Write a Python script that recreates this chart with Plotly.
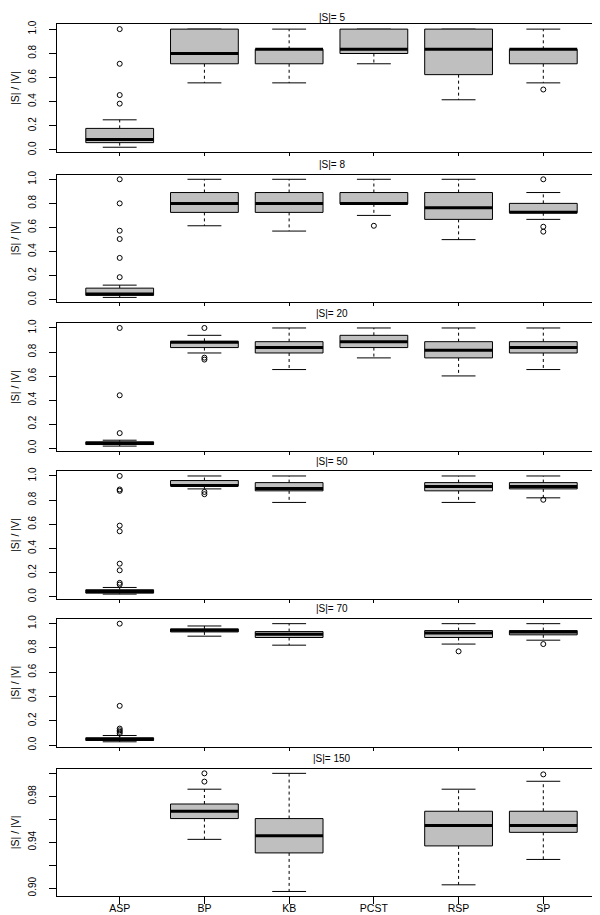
import plotly.graph_objects as go

CATEGORIES = ["ASP", "BP", "KB", "PCST", "RSP", "SP"]
PANEL_TITLES = ["|S|= 5", "|S|= 8", "|S|= 20", "|S|= 50", "|S|= 70", "|S|= 150"]
Y_TITLE = "|S| / |V|"

# rows = panels, columns = categories (None = no data)
LOWER = [
    [0.022, 0.555, 0.555, 0.713, 0.415, 0.555],
    [0.019, 0.614, 0.570, 0.700, 0.499, 0.667],
    [0.017, 0.792, 0.654, 0.751, 0.601, 0.654],
    [0.022, 0.893, 0.781, None, 0.781, 0.819],
    [0.027, 0.897, 0.823, None, 0.832, 0.864],
    [None, 0.9425, 0.8971, None, 0.9029, 0.925],
]
Q1 = [
    [0.060, 0.713, 0.713, 0.798, 0.623, 0.713],
    [0.036, 0.725, 0.725, 0.796, 0.667, 0.722],
    [0.030, 0.837, 0.792, 0.837, 0.751, 0.792],
    [0.030, 0.918, 0.877, None, 0.877, 0.893],
    [0.038, 0.932, 0.886, None, 0.886, 0.908],
    [None, 0.9606, 0.9307, None, 0.9368, 0.9486],
]
MEDIAN = [
    [0.087, 0.798, 0.833, 0.833, 0.833, 0.833],
    [0.047, 0.800, 0.800, 0.800, 0.763, 0.727],
    [0.039, 0.881, 0.837, 0.886, 0.814, 0.837],
    [0.044, 0.922, 0.896, None, 0.912, 0.912],
    [0.049, 0.946, 0.913, None, 0.924, 0.932],
    [None, 0.967, 0.9457, None, 0.9546, 0.9546],
]
Q3 = [
    [0.178, 1.0, 0.833, 1.0, 1.0, 0.833],
    [0.096, 0.890, 0.890, 0.890, 0.890, 0.800],
    [0.053, 0.889, 0.886, 0.939, 0.886, 0.886],
    [0.058, 0.962, 0.945, None, 0.945, 0.945],
    [0.060, 0.957, 0.935, None, 0.943, 0.943],
    [None, 0.9733, 0.9606, None, 0.967, 0.967],
]
UPPER = [
    [0.249, 1.0, 1.0, 1.0, 1.0, 1.0],
    [0.121, 1.0, 1.0, 1.0, 1.0, 0.890],
    [0.066, 0.939, 1.0, 1.0, 1.0, 1.0],
    [0.077, 1.0, 1.0, None, 1.0, 1.0],
    [0.079, 0.981, 1.0, None, 1.0, 1.0],
    [None, 0.9862, 1.0, None, 0.9862, 0.9931],
]
OUTLIERS = [
    [[1.0, 0.713, 0.454, 0.383], [], [], [], [], [0.5]],
    [[1.0, 0.80, 0.573, 0.504, 0.347, 0.187], [], [], [0.614], [], [1.0, 0.606, 0.565]],
    [[1.0, 0.44, 0.125], [1.0, 0.753, 0.737], [], [], [], []],
    [[1.0, 0.888, 0.877, 0.589, 0.542, 0.274, 0.219, 0.115, 0.101], [0.868, 0.849], [], [], [], [0.803]],
    [[1.0, 0.323, 0.136, 0.122, 0.109, 0.095], [], [], [], [0.772], [0.832]],
    [[], [1.0, 0.9928], [], [], [], [0.9991]],
]
Y_TICKS_MAIN = [0.0, 0.2, 0.4, 0.6, 0.8, 1.0]
Y_TICKTEXT_MAIN = ["0.0", "0.2", "0.4", "0.6", "0.8", "1.0"]
Y_TICKS_LAST = [0.90, 0.92, 0.94, 0.96, 0.98, 1.00]
Y_TICKTEXT_LAST = ["0.90", "", "0.94", "", "0.98", ""]

# ---- layout constants (pixels in a 600x915 page) ----
W, H = 600, 915
PANEL_TOPS = [12.5, 164, 314, 463.3, 612.3, 763.3]
PANEL_H = 128.7
TITLE_SHIFT = [6.5, 10, 10, 10, 10, 10]
FONT = "Liberation Sans, Arial, sans-serif"
BOX_FILL = "#bfbfbf"
HALF_BOX = 0.4
HALF_STAPLE = 0.2

fig = go.Figure()
layout = {}
n_panels = len(PANEL_TITLES)

for p in range(n_panels):
    sfx = "" if p == 0 else str(p + 1)
    xa, ya = "x" + sfx, "y" + sfx
    bx, by, wx, wy, sx, sy, mx, my, ox, oy = ([] for _ in range(10))
    vals = []
    for j, cat in enumerate(CATEGORIES):
        pos = j + 1
        for o in OUTLIERS[p][j]:
            ox.append(pos); oy.append(o); vals.append(o)
        if Q1[p][j] is None:
            continue
        lo, q1, md, q3, hi = LOWER[p][j], Q1[p][j], MEDIAN[p][j], Q3[p][j], UPPER[p][j]
        vals += [lo, hi]
        bx += [pos - HALF_BOX, pos + HALF_BOX, pos + HALF_BOX, pos - HALF_BOX, pos - HALF_BOX, None]
        by += [q1, q1, q3, q3, q1, None]
        wx += [pos, pos, None, pos, pos, None]
        wy += [q3, hi, None, q1, lo, None]
        sx += [pos - HALF_STAPLE, pos + HALF_STAPLE, None, pos - HALF_STAPLE, pos + HALF_STAPLE, None]
        sy += [hi, hi, None, lo, lo, None]
        mx += [pos - HALF_BOX, pos + HALF_BOX, None]
        my += [md, md, None]

    common = dict(xaxis=xa, yaxis=ya, showlegend=False, hoverinfo="skip")
    fig.add_trace(go.Scatter(x=wx, y=wy, mode="lines",
                             line=dict(color="black", width=1, dash="3px,3px"), **common))
    fig.add_trace(go.Scatter(x=sx, y=sy, mode="lines",
                             line=dict(color="black", width=1), **common))
    fig.add_trace(go.Scatter(x=bx, y=by, mode="lines", fill="toself", fillcolor=BOX_FILL,
                             line=dict(color="black", width=1), **common))
    fig.add_trace(go.Scatter(x=mx, y=my, mode="lines",
                             line=dict(color="black", width=3), **common))
    fig.add_trace(go.Scatter(x=ox, y=oy, mode="markers",
                             marker=dict(symbol="circle-open", size=5,
                                         color="black", line=dict(width=1)), **common))

    vmin, vmax = min(vals), max(vals)
    pad = 0.04 * (vmax - vmin)
    top = PANEL_TOPS[p]
    dom = [1 - (top + PANEL_H) / H, 1 - top / H]
    last = p == n_panels - 1
    n = len(CATEGORIES)

    layout["xaxis" + sfx] = dict(
        domain=[0, 1], anchor=ya, range=[0.5 - 0.04 * n, n + 0.5 + 0.04 * n],
        tickvals=list(range(1, n + 1)), ticktext=CATEGORIES,
        showticklabels=last, ticks="outside", ticklen=7 if last else 3,
        tickcolor="black", tickwidth=1, showline=True, linecolor="black",
        linewidth=1, mirror=True, showgrid=False, zeroline=False,
        ticklabelstandoff=-5,
        tickfont=dict(family=FONT, size=10.5, color="black"),
    )
    layout["yaxis" + sfx] = dict(
        domain=dom, anchor=xa, range=[vmin - pad, vmax + pad],
        tickvals=Y_TICKS_LAST if last else Y_TICKS_MAIN,
        ticktext=Y_TICKTEXT_LAST if last else Y_TICKTEXT_MAIN,
        tickangle=-90, ticks="outside", ticklen=7, tickcolor="black",
        tickwidth=1, showline=True, linecolor="black", linewidth=1,
        mirror=True, showgrid=False, zeroline=False, ticklabelstandoff=9,
        tickfont=dict(family=FONT, size=10, color="black"),
        title=dict(text=Y_TITLE, standoff=5,
                   font=dict(family=FONT, size=10.5, color="black")),
    )
    fig.add_annotation(
        text=PANEL_TITLES[p], xref="paper", yref="paper", x=0.5, y=dom[1],
        xanchor="center", yanchor="middle", yshift=TITLE_SHIFT[p], showarrow=False,
        font=dict(family=FONT, size=10, color="black"),
    )

fig.update_layout(
    width=W, height=H, margin=dict(l=49, r=2, t=0, b=0),
    paper_bgcolor="white", plot_bgcolor="white", **layout,
)
fig.write_html("out.html")
